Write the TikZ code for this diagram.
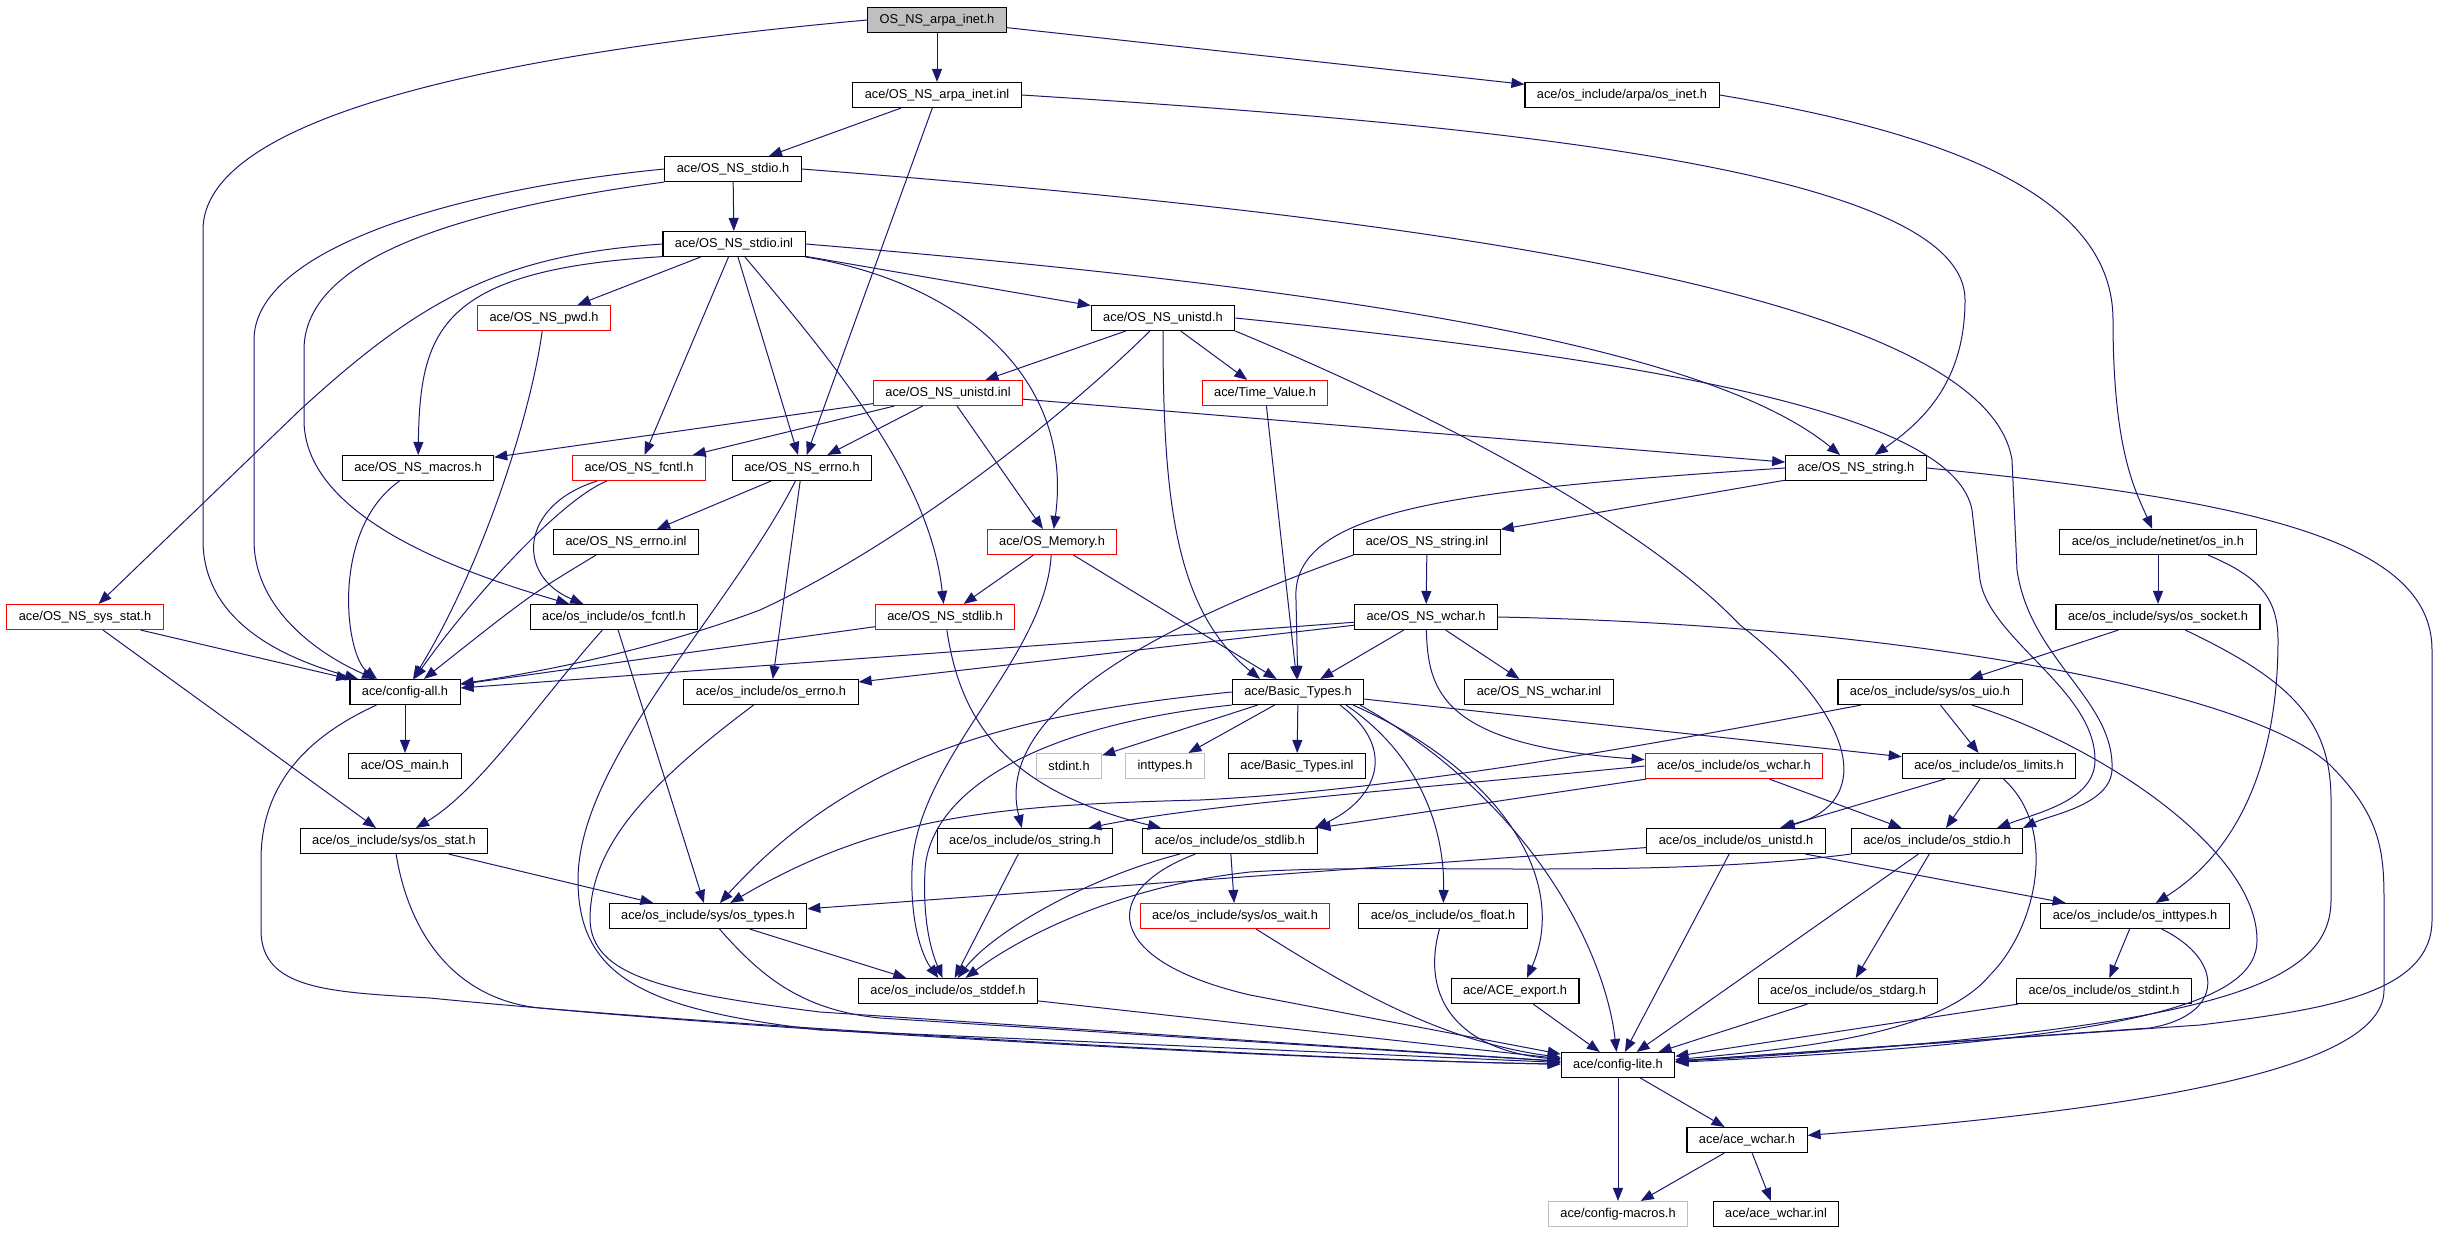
\documentclass[tikz,border=0pt]{standalone}
\usepackage{fontspec}
\setmainfont{Liberation Sans}
\usetikzlibrary{arrows.meta,calc}
\definecolor{edgeblue}{HTML}{191970}
\definecolor{rootgrey}{HTML}{BFBFBF}
\begin{document}
\begin{tikzpicture}[x=0.5pt,y=-0.5pt,
	file/.style={shape=rectangle,draw=black,line width=0.55pt,minimum height=12.5pt,inner xsep=6pt,inner ysep=0pt,font=\fontsize{6.4}{7.5}\selectfont},
	redfile/.style={file,draw=red},
	greyfile/.style={file,draw=rootgrey},
	dep/.style={color=edgeblue,line width=0.5pt,-{Triangle[length=6.5pt,width=5pt]}}]

	\useasboundingbox (0,0) rectangle (2452,1232);

	\node[file,fill=rootgrey] (root) at (937,20) {OS\_NS\_arpa\_inet.h};
	\node[file] (ainl) at (937,95) {ace/OS\_NS\_arpa\_inet.inl};
	\node[file] (inet) at (1622,95) {ace/os\_include/arpa/os\_inet.h};
	\node[file] (stdioh) at (733,169) {ace/OS\_NS\_stdio.h};
	\node[file] (stdioinl) at (734,244) {ace/OS\_NS\_stdio.inl};
	\node[redfile] (pwd) at (544,318) {ace/OS\_NS\_pwd.h};
	\node[file] (unistdh) at (1163,318) {ace/OS\_NS\_unistd.h};
	\node[redfile] (unistdinl) at (948,393) {ace/OS\_NS\_unistd.inl};
	\node[redfile] (timeval) at (1265,393) {ace/Time\_Value.h};
	\node[file] (macros) at (418,468) {ace/OS\_NS\_macros.h};
	\node[redfile] (fcntl) at (639,468) {ace/OS\_NS\_fcntl.h};
	\node[file] (errnoh) at (802,468) {ace/OS\_NS\_errno.h};
	\node[file] (stringh) at (1856,468) {ace/OS\_NS\_string.h};
	\node[file] (errnoinl) at (626,542) {ace/OS\_NS\_errno.inl};
	\node[redfile] (memory) at (1052,542) {ace/OS\_Memory.h};
	\node[file] (stringinl) at (1427,542) {ace/OS\_NS\_string.inl};
	\node[file] (osin) at (2158,542) {ace/os\_include/netinet/os\_in.h};
	\node[redfile] (sysstat) at (85,617) {ace/OS\_NS\_sys\_stat.h};
	\node[file] (osfcntl) at (614,617) {ace/os\_include/os\_fcntl.h};
	\node[redfile] (stdlibh) at (945,617) {ace/OS\_NS\_stdlib.h};
	\node[file] (wcharh) at (1426,617) {ace/OS\_NS\_wchar.h};
	\node[file] (socket) at (2158,617) {ace/os\_include/sys/os\_socket.h};
	\node[file] (configall) at (405,692) {ace/config-all.h};
	\node[file] (oserrno) at (771,692) {ace/os\_include/os\_errno.h};
	\node[file] (basic) at (1298,692) {ace/Basic\_Types.h};
	\node[file] (wcharinl) at (1539,692) {ace/OS\_NS\_wchar.inl};
	\node[file] (uio) at (1930,692) {ace/os\_include/sys/os\_uio.h};
	\node[file] (osmain) at (405,766) {ace/OS\_main.h};
	\node[greyfile] (stdint) at (1069,766) {stdint.h};
	\node[greyfile] (inttypes) at (1165,766) {inttypes.h};
	\node[file] (basicinl) at (1297,766) {ace/Basic\_Types.inl};
	\node[redfile] (oswchar) at (1734,766) {ace/os\_include/os\_wchar.h};
	\node[file] (limits) at (1989,766) {ace/os\_include/os\_limits.h};
	\node[file] (osstat) at (394,841) {ace/os\_include/sys/os\_stat.h};
	\node[file] (osstring) at (1025,841) {ace/os\_include/os\_string.h};
	\node[file] (osstdlib) at (1230,841) {ace/os\_include/os\_stdlib.h};
	\node[file] (osunistd) at (1736,841) {ace/os\_include/os\_unistd.h};
	\node[file] (osstdio) at (1937,841) {ace/os\_include/os\_stdio.h};
	\node[file] (ostypes) at (708,916) {ace/os\_include/sys/os\_types.h};
	\node[redfile] (oswait) at (1235,916) {ace/os\_include/sys/os\_wait.h};
	\node[file] (osfloat) at (1443,916) {ace/os\_include/os\_float.h};
	\node[file] (osinttypes) at (2135,916) {ace/os\_include/os\_inttypes.h};
	\node[file] (osstddef) at (948,991) {ace/os\_include/os\_stddef.h};
	\node[file] (aceexport) at (1515,991) {ace/ACE\_export.h};
	\node[file] (osstdarg) at (1848,991) {ace/os\_include/os\_stdarg.h};
	\node[file] (osstdint) at (2104,991) {ace/os\_include/os\_stdint.h};
	\node[file] (lite) at (1618,1065) {ace/config-lite.h};
	\node[file] (acewchar) at (1747,1140) {ace/ace\_wchar.h};
	\node[greyfile] (cfgmacros) at (1618,1214) {ace/config-macros.h};
	\node[file] (acewcharinl) at (1776,1214) {ace/ace\_wchar.inl};

	\path[dep] (root) edge (ainl);
	\path[dep] (root) edge (inet);
	\draw[dep] (root.west) .. controls (480,55) and (203,120) .. (203,230) -- (203,540) .. controls (203,625) and (290,660) .. (configall);

	\path[dep] (ainl) edge (stdioh);
	\path[dep] (ainl) edge (errnoh);
	\draw[dep] (ainl.east) .. controls (1500,125) and (1965,170) .. (1965,300) .. controls (1965,380) and (1925,420) .. (stringh);
	\draw[dep] (inet.east) .. controls (1960,135) and (2113,200) .. (2113,320) .. controls (2113,450) and (2135,490) .. (osin);

	\path[dep] (stdioh) edge (stdioinl);
	\draw[dep] (stdioh.west) .. controls (450,190) and (254,250) .. (254,340) -- (254,540) .. controls (254,610) and (320,655) .. (configall);
	\draw[dep] (stdioh.south west) .. controls (420,215) and (304,270) .. (304,350) -- (304,420) .. controls (304,520) and (470,575) .. (osfcntl);
	\draw[dep] (stdioh.east) .. controls (1400,215) and (1985,290) .. (2012,460) -- (2017,570) .. controls (2030,660) and (2115,700) .. (2112,770) .. controls (2110,805) and (2050,815) .. ($(osstdio.north)+(86,0)$);

	\path[dep] (stdioinl) edge (pwd);
	\draw[dep] (stdioinl.west) .. controls (500,255) and (420,300) .. (300,410) -- (sysstat);
	\draw[dep] (stdioinl.190) .. controls (440,270) and (420,330) .. (macros);
	\path[dep] (stdioinl) edge (fcntl);
	\path[dep] (stdioinl) edge (errnoh);
	\draw[dep] (stdioinl) .. controls (840,370) and (930,480) .. (stdlibh);
	\draw[dep] (stdioinl.south east) .. controls (950,280) and (1075,370) .. (memory);
	\path[dep] (stdioinl) edge (unistdh);
	\draw[dep] (stdioinl.east) .. controls (1300,285) and (1700,340) .. (stringh);

	\draw[dep] (pwd) .. controls (530,420) and (480,570) .. (configall);

	\path[dep] (unistdh) edge (unistdinl);
	\path[dep] (unistdh) edge (timeval);
	\draw[dep] (unistdh) .. controls (1163,500) and (1175,610) .. ($(basic.north)+(-38,0)$);
	\draw[dep] (unistdh) .. controls (1060,420) and (900,545) .. (760,610) .. controls (640,655) and (520,675) .. (configall);
	\draw[dep] (unistdh.south east) .. controls (1450,420) and (1650,530) .. (1740,625) .. controls (1850,710) and (1880,800) .. (osunistd);
	\draw[dep] (unistdh.east) .. controls (1700,365) and (1955,420) .. (1972,510) -- (1980,580) .. controls (1990,640) and (2095,690) .. (2095,760) .. controls (2095,800) and (2040,812) .. ($(osstdio.north)+(60,0)$);

	\path[dep] (unistdinl) edge (macros);
	\path[dep] (unistdinl) edge (fcntl);
	\path[dep] (unistdinl) edge (errnoh);
	\path[dep] (unistdinl) edge (memory);
	\path[dep] (unistdinl) edge (stringh);
	\path[dep] (timeval) edge (basic);

	\draw[dep] (macros) .. controls (330,530) and (345,655) .. ($(configall.north)+(-28,0)$);
	\draw[dep] (fcntl) .. controls (560,500) and (470,600) .. (configall);
	\draw[dep] (fcntl) .. controls (520,505) and (515,575) .. (osfcntl);
	\path[dep] (errnoh) edge (errnoinl);
	\path[dep] (errnoh) edge (oserrno);
	\draw[dep] (errnoh) .. controls (730,610) and (578,760) .. (578,880) .. controls (578,980) and (650,1010) .. (820,1030) -- (lite);
	\draw[dep] ($(errnoinl.south)+(-30,0)$) .. controls (530,595) .. ($(configall.north)+(19,0)$);

	\path[dep] (memory) edge (stdlibh);
	\path[dep] (memory) edge (basic);
	\draw[dep] (memory) .. controls (1045,660) and (915,760) .. (912,870) .. controls (910,930) and (925,960) .. (osstddef);
	\path[dep] (stdlibh) edge (configall);
	\draw[dep] (stdlibh) .. controls (960,720) and (1005,790) .. ($(osstdlib.north)+(-69,0)$);

	\path[dep] (sysstat) edge (configall);
	\path[dep] (sysstat) edge (osstat);
	\draw[dep] (osfcntl) .. controls (540,700) and (480,790) .. (osstat);
	\path[dep] (osfcntl) edge (ostypes);

	\path[dep] (configall) edge (osmain);
	\draw[dep] (configall) .. controls (300,740) and (261,790) .. (261,860) -- (261,930) .. controls (261,990) and (330,992) .. (430,998) .. controls (700,1025) and (1300,1060) .. (lite);
	\draw[dep] (osstat) .. controls (410,940) and (460,1000) .. (540,1008) .. controls (800,1032) and (1300,1060) .. (lite);
	\path[dep] (osstat) edge (ostypes);
	\draw[dep] (oserrno) .. controls (640,790) and (590,850) .. (590,920) .. controls (592,975) and (660,992) .. (820,1012) -- (lite);
	\draw[dep] (ostypes) .. controls (760,975) and (800,1010) .. (880,1018) -- (lite);
	\path[dep] (ostypes) edge (osstddef);

	\path[dep] (basic) edge (stdint);
	\path[dep] (basic) edge (inttypes);
	\path[dep] (basic) edge (basicinl);
	\path[dep] (basic) edge (limits);
	\draw[dep] (basic.west) .. controls (1000,715) and (850,760) .. (ostypes);
	\draw[dep] (basic.south west) .. controls (1040,725) and (930,790) .. (925,870) .. controls (922,930) and (935,960) .. (osstddef);
	\draw[dep] ($(basic.south)+(42,0)$) .. controls (1400,750) and (1375,800) .. ($(osstdlib.north)+(85,0)$);
	\draw[dep] ($(basic.south)+(48,0)$) .. controls (1420,755) and (1445,830) .. (osfloat);
	\draw[dep] ($(basic.south)+(55,0)$) .. controls (1500,770) and (1570,880) .. ($(aceexport.north)+(12,0)$);
	\draw[dep] ($(basic.south)+(62,0)$) .. controls (1530,800) and (1605,950) .. (lite);

	\draw[dep] (stringh.west) .. controls (1450,490) and (1290,510) .. (1296,600) -- (basic);
	\path[dep] (stringh) edge (stringinl);
	\draw[dep] (stringh.east) .. controls (2250,500) and (2432,540) .. (2432,650) -- (2432,920) .. controls (2432,995) and (2320,1010) .. (2200,1025) -- (lite);
	\path[dep] (stringinl) edge (wcharh);
	\draw[dep] (stringinl.south west) .. controls (1200,610) and (990,700) .. (osstring);

	\path[dep] (wcharh) edge (basic);
	\path[dep] (wcharh) edge (wcharinl);
	\path[dep] (wcharh) edge (configall);
	\path[dep] (wcharh) edge (oserrno);
	\draw[dep] (wcharh) .. controls (1428,690) and (1440,745) .. (oswchar);
	\draw[dep] (wcharh.east) .. controls (1900,625) and (2250,690) .. (2330,765) .. controls (2380,815) and (2384,850) .. (2384,900) -- (2384,990) .. controls (2384,1060) and (2200,1105) .. (acewchar);

	\path[dep] (osin) edge (socket);
	\draw[dep] ($(osin.south)+(50,0)$) .. controls (2255,575) and (2278,595) .. (2278,640) .. controls (2278,760) and (2240,850) .. (osinttypes);
	\path[dep] (socket) edge (uio);
	\draw[dep] (socket) .. controls (2290,680) and (2331,720) .. (2331,800) -- (2331,900) .. controls (2331,990) and (2200,1030) .. (lite);
	\path[dep] (uio) edge (limits);
	\draw[dep] (uio) .. controls (2100,745) and (2257,850) .. (2257,940) .. controls (2257,1000) and (2150,1040) .. (lite);
	\draw[dep] (uio) .. controls (1650,745) and (1400,790) .. (1200,800) .. controls (1000,805) and (880,815) .. (ostypes);

	\path[dep] (limits) edge (osunistd);
	\path[dep] (limits) edge (osstdio);
	\draw[dep] (limits) .. controls (2060,830) and (2035,930) .. (1990,975) .. controls (1940,1035) and (1800,1048) .. (lite);
	\path[dep] (oswchar) edge (osstdio);
	\draw[dep] (oswchar.west) .. controls (1400,790) and (1200,805) .. (osstring);
	\path[dep] (oswchar) edge (osstdlib);

	\path[dep] (osunistd) edge (lite);
	\path[dep] (osunistd) edge (ostypes);
	\path[dep] (osunistd) edge (osinttypes);
	\path[dep] (osstdio) edge (lite);
	\path[dep] (osstdio) edge (osstdarg);
	\draw[dep] (osstdio.south west) .. controls (1650,880) and (1400,862) .. (1250,872) .. controls (1130,885) and (1030,930) .. (osstddef);
	\path[dep] (osinttypes) edge (osstdint);
	\draw[dep] (osinttypes) .. controls (2225,960) and (2225,1015) .. (2150,1028) -- (lite);
	\path[dep] (osstdint) edge (lite);
	\path[dep] (osstdarg) edge (lite);

	\path[dep] (osstring) edge (osstddef);
	\path[dep] (osstdlib) edge (oswait);
	\draw[dep] (osstdlib) .. controls (1080,880) and (990,935) .. (osstddef);
	\draw[dep] (osstdlib) .. controls (1100,890) and (1100,960) .. (1250,995) -- (lite);
	\draw[dep] (oswait) .. controls (1330,975) and (1430,1040) .. (lite);
	\draw[dep] (osfloat) .. controls (1420,1000) and (1460,1050) .. (lite);
	\path[dep] (aceexport) edge (lite);
	\path[dep] (osstddef) edge (lite);

	\path[dep] (lite) edge (acewchar);
	\path[dep] (lite) edge (cfgmacros);
	\path[dep] (acewchar) edge (cfgmacros);
	\path[dep] (acewchar) edge (acewcharinl);

\end{tikzpicture}
\end{document}
